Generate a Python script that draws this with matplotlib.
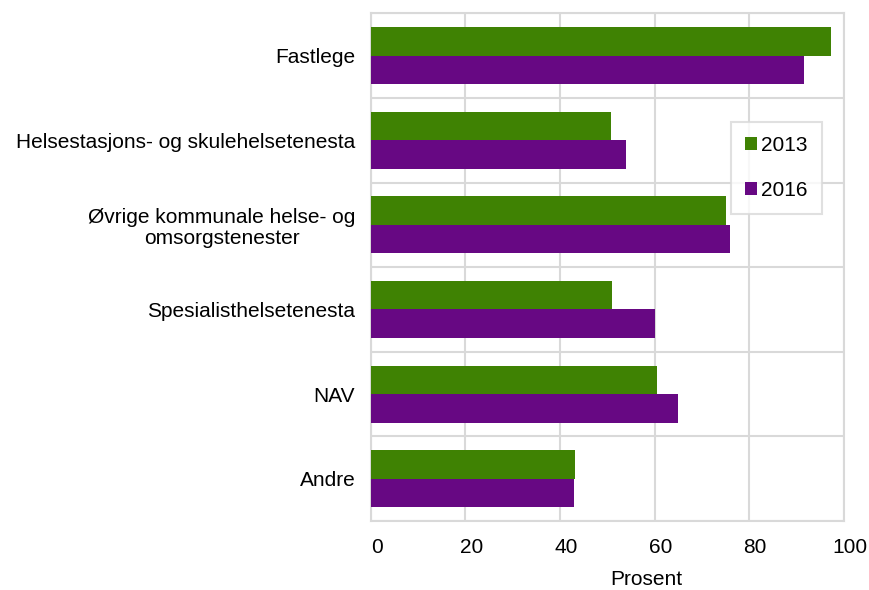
import matplotlib
matplotlib.use("Agg")
import matplotlib.pyplot as plt
from matplotlib.patches import Patch
from matplotlib.transforms import ScaledTranslation
import numpy as np

plt.rcParams['font.family'] = ['Liberation Sans', 'DejaVu Sans']

categories = [
    "Fastlege",
    "Helsestasjons- og skulehelsetenesta",
    "Øvrige kommunale helse- og\nomsorgstenester",
    "Spesialisthelsetenesta",
    "NAV",
    "Andre",
]
values_2013 = [97.3, 50.8, 75.0, 50.9, 60.5, 43.1]
values_2016 = [91.5, 54.0, 75.9, 60.0, 64.9, 42.9]
series_labels = ["2013", "2016"]
x_ticks = [0, 20, 40, 60, 80, 100]

green = "#3f8203"
purple = "#670883"
grid_col = "#d9d9d9"
fs = 15

fig = plt.figure(figsize=(8.69, 5.90), dpi=100)
ax = fig.add_axes([370.5 / 869, 1 - 521 / 590, (844 - 370.5) / 869, (521 - 13.3) / 590])

y = np.arange(len(categories))
h = 0.337
ax.barh(y - h / 2, values_2013, height=h, color=green, zorder=3)
ax.barh(y + h / 2, values_2016, height=h, color=purple, zorder=3)

ax.set_xlim(0, 100)
ax.set_ylim(len(categories) - 0.5, -0.5)
ax.set_xticks(x_ticks)
ax.set_xticklabels([str(v) for v in x_ticks], fontsize=fs)
ax.set_yticks(y)
ax.set_yticklabels(categories, fontsize=fs)
ax.set_yticks(np.arange(len(categories) + 1) - 0.5, minor=True)

ax.tick_params(axis='both', which='both', length=0)
ax.tick_params(axis='y', pad=11)
ax.tick_params(axis='x', pad=12)
for lab in ax.get_yticklabels():
    lab.set_multialignment('center')
    lab.set_linespacing(1.12)
shift = ScaledTranslation(6 / 100, 0, fig.dpi_scale_trans)
for lab in ax.get_xticklabels():
    lab.set_transform(lab.get_transform() + shift)

ax.grid(axis='x', which='major', color=grid_col, linewidth=1.5, zorder=0)
ax.grid(axis='y', which='minor', color=grid_col, linewidth=1.5, zorder=0)
for sp in ax.spines.values():
    sp.set_color(grid_col)
    sp.set_linewidth(1.5)

ax.set_xlabel("Prosent", fontsize=fs, va='bottom')
ax.xaxis.set_label_coords((646 - 370.5) / (844 - 370.5), (521 - 589) / (521 - 13.3))

handles = [Patch(facecolor=green, edgecolor='none'), Patch(facecolor=purple, edgecolor='none')]
leg = fig.legend(handles, series_labels, loc='upper left',
                 bbox_to_anchor=(731 / 869, 1 - 122 / 590), bbox_transform=fig.transFigure,
                 borderaxespad=0, fontsize=fs, frameon=True, fancybox=False,
                 handlelength=0.58, handleheight=0.58, handletextpad=0.2,
                 labelspacing=1.25, borderpad=0.68)
leg.get_frame().set_edgecolor(grid_col)
leg.get_frame().set_linewidth(1.5)

fig.savefig("out.png", dpi=100, facecolor="white")
